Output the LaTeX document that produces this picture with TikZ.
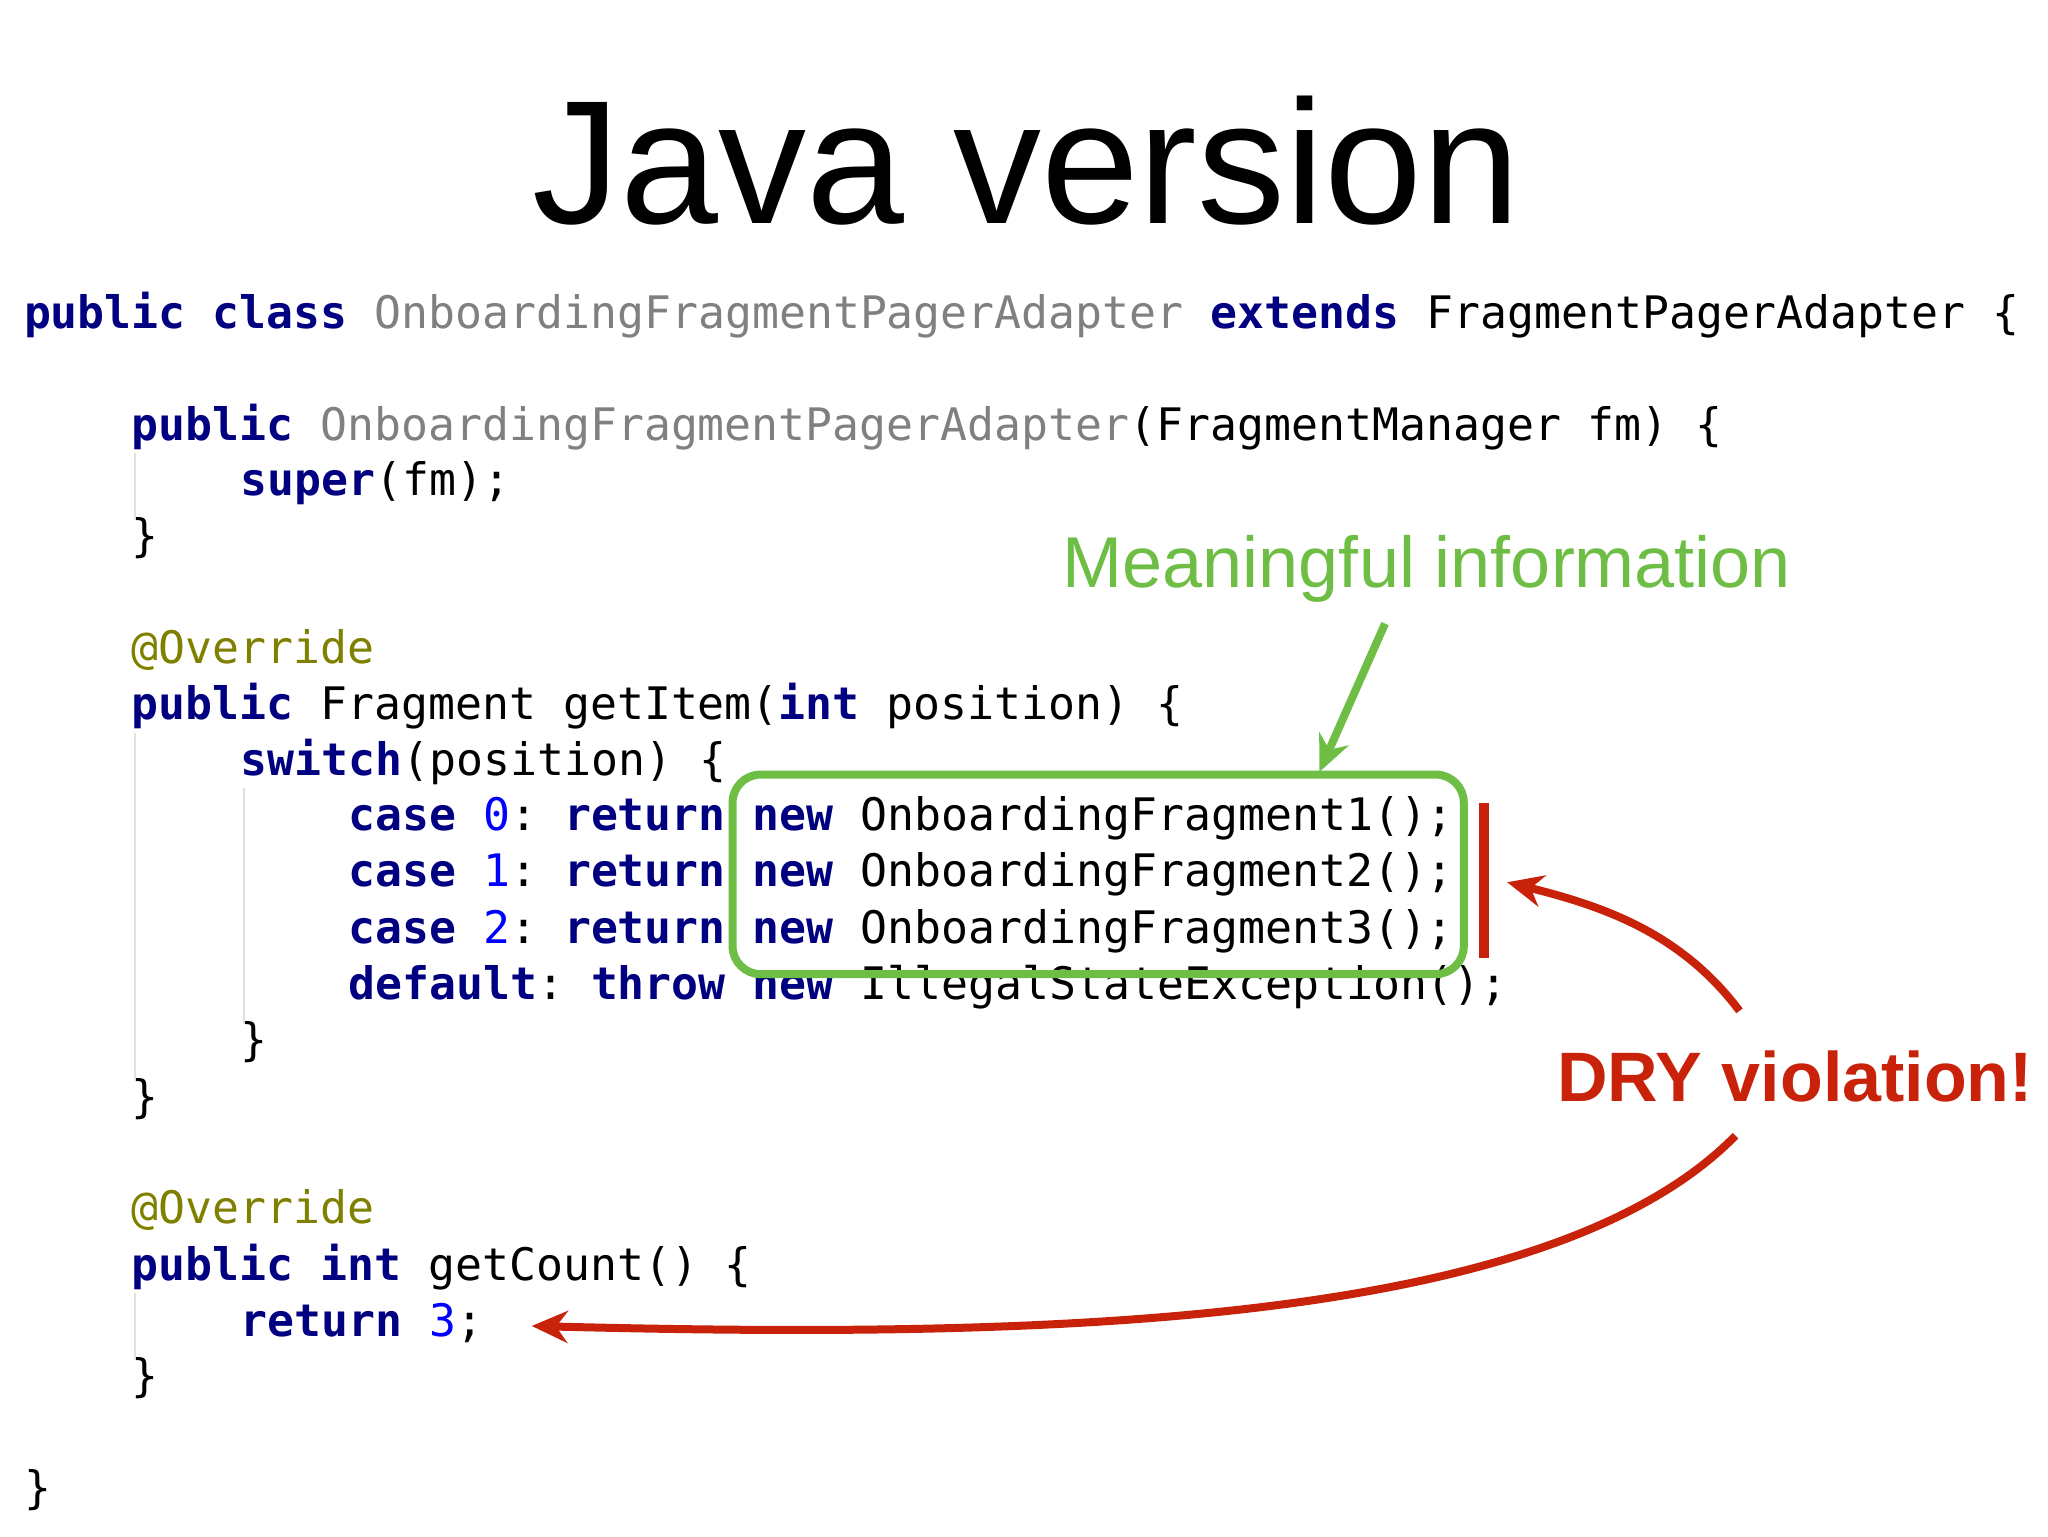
\documentclass[tikz,border=0pt]{standalone}
\usepackage{fontspec}
\usetikzlibrary{arrows.meta}
\setmainfont{Liberation Sans}
\setmonofont{DejaVu Sans Mono}
\definecolor{kwc}{RGB}{0,0,128}
\definecolor{cnc}{RGB}{128,128,128}
\definecolor{numc}{RGB}{0,0,255}
\definecolor{annc}{RGB}{128,128,0}
\definecolor{grn}{RGB}{110,190,70}
\definecolor{redc}{RGB}{200,35,10}
\newcommand{\kw}[1]{\textcolor{kwc}{\bfseries #1}}
\newcommand{\cn}[1]{\textcolor{cnc}{#1}}
\newcommand{\nm}[1]{\textcolor{numc}{#1}}
\begin{document}
\begin{tikzpicture}[x=0.6565pt,y=-0.6565pt,
  code/.style={anchor=west,inner sep=0pt,font=\ttfamily\fontsize{22.4}{26}\selectfont},
  guide/.style={draw=black!12,line width=1pt}]
\useasboundingbox (0,0) rectangle (1560,1170);
\node[font=\fontsize{88}{100}\selectfont] (title) at (782,122) {Java version};
\node[code] (l1) at (18,240) {\kw{public class} \cn{OnboardingFragmentPagerAdapter} \kw{extends} FragmentPagerAdapter \{};
\node[code] (l3) at (100,325) {\kw{public} \cn{OnboardingFragmentPagerAdapter}(FragmentManager fm) \{};
\node[code] (l4) at (183,368) {\kw{super}(fm);};
\node[code] (l5) at (100,410) {\}};
\node[code] (l7) at (100,495) {\textcolor{annc}{@Override}};
\node[code] (l8) at (100,538) {\kw{public} Fragment getItem(\kw{int} position) \{};
\node[code] (l9) at (183,580) {\kw{switch}(position) \{};
\node[code] (l10) at (265,623) {\kw{case} \nm{0}: \kw{return} \kw{new} OnboardingFragment1();};
\node[code] (l11) at (265,666) {\kw{case} \nm{1}: \kw{return} \kw{new} OnboardingFragment2();};
\node[code] (l12) at (265,709) {\kw{case} \nm{2}: \kw{return} \kw{new} OnboardingFragment3();};
\node[code] (l13) at (265,752) {\kw{default}: \kw{throw} \kw{new} IllegalStateException();};
\node[code] (l14) at (183,794) {\}};
\node[code] (l15) at (100,837) {\}};
\node[code] (l17) at (100,922) {\textcolor{annc}{@Override}};
\node[code] (l18) at (100,965) {\kw{public int} getCount() \{};
\node[code] (l19) at (183,1008) {\kw{return} \nm{3};};
\node[code] (l20) at (100,1050) {\}};
\node[code] (l22) at (18,1135) {\}};
\draw[guide] (103,345) -- (103,395);
\draw[guide] (103,558) -- (103,822);
\draw[guide] (186,600) -- (186,780);
\draw[guide] (103,985) -- (103,1035);
\node[draw=grn,line width=4pt,rounded corners=14pt,minimum width=557*0.6565pt,minimum height=152*0.6565pt,inner sep=0pt] (box) at (836.5,666) {};
\node[text=grn,font=\fontsize{36}{42}\selectfont] (mi) at (1087,433) {Meaningful information};
\coordinate (ga) at (1055,475);
\coordinate (gb) at (1005,588);
\draw[grn,line width=4pt,-{Stealth[length=18pt,width=16pt]}] (ga) -- (gb);
\node[text=redc,font=\bfseries\fontsize{35}{42}\selectfont,anchor=east] (dry) at (1554,820) {DRY violation!};
\draw[redc,line width=5pt] (1130,612) -- (1130,730);
\coordinate (r1) at (1325,770);
\coordinate (r2) at (1322,865);
\coordinate (t1) at (1148,672);
\coordinate (t2) at (405,1010);
\draw[redc,line width=4pt,-{Stealth[length=18pt,width=16pt]}] (r1) .. controls (1280,710) and (1220,690) .. (t1);
\draw[redc,line width=4pt,-{Stealth[length=18pt,width=16pt]}] (r2) .. controls (1180,1010) and (800,1020) .. (t2);
\end{tikzpicture}
\end{document}
